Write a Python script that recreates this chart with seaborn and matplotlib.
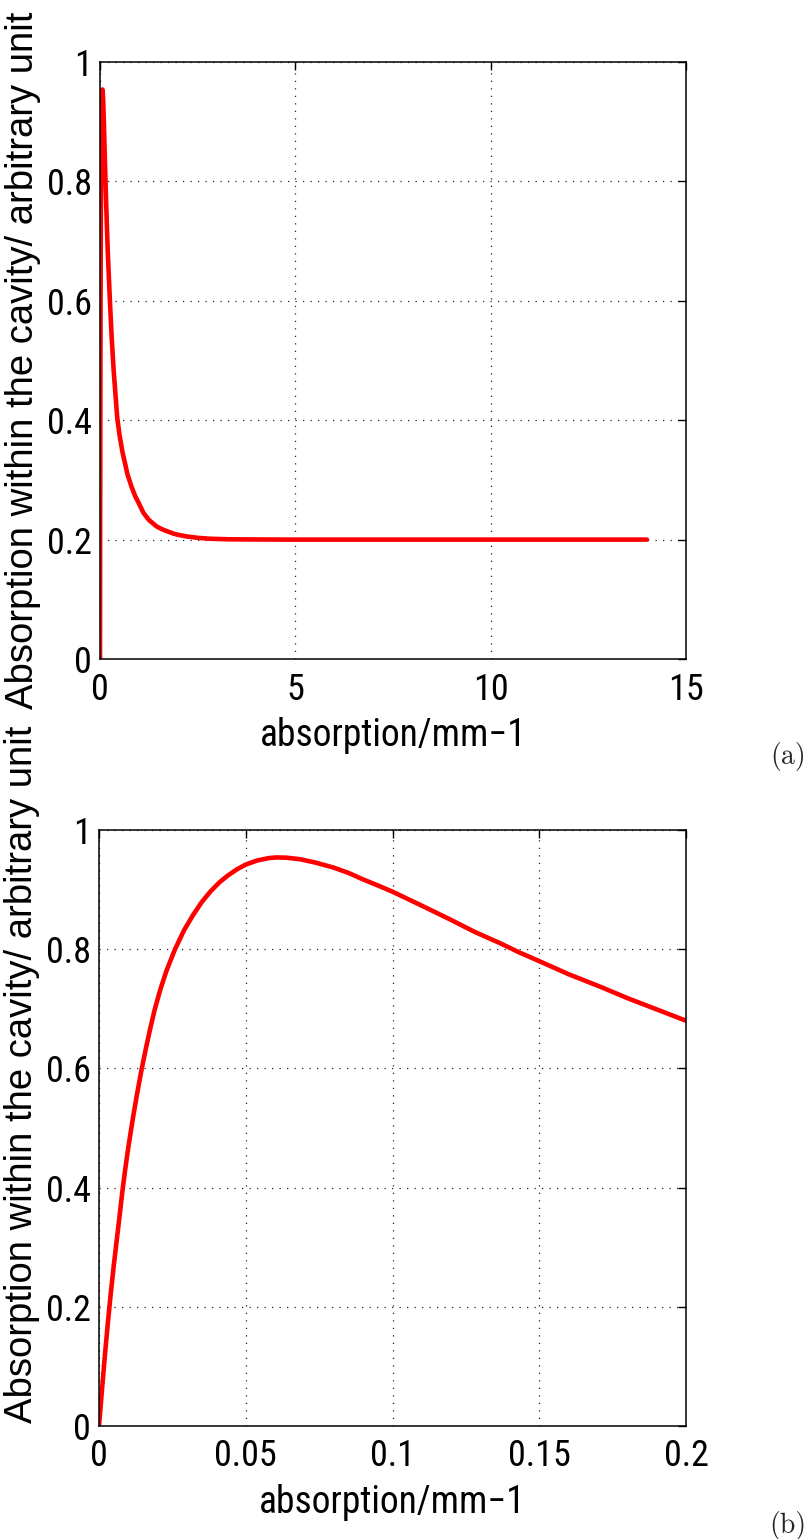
import numpy as np
import pandas as pd
import matplotlib
matplotlib.use("Agg")
import matplotlib.pyplot as plt
import seaborn as sns
from matplotlib import font_manager
from matplotlib.font_manager import FontProperties

# ---- data (absorption coefficient vs absorbed fraction) ----
alpha = [0.0, 0.001, 0.002, 0.003, 0.004, 0.005, 0.006, 0.007, 0.008, 0.009, 0.010,
         0.0115, 0.013, 0.0145, 0.016, 0.0175, 0.019, 0.021, 0.023, 0.0259, 0.029,
         0.032, 0.035, 0.038, 0.041, 0.044, 0.047, 0.050, 0.054, 0.058, 0.0606,
         0.064, 0.0685, 0.074, 0.0799, 0.085, 0.090, 0.095, 0.100, 0.110, 0.1196,
         0.128, 0.1367, 0.143, 0.150, 0.160, 0.1708, 0.180, 0.190, 0.200,
         0.25, 0.30, 0.35, 0.44, 0.50, 0.58, 0.65, 0.70, 0.81, 0.90, 1.00, 1.11,
         1.25, 1.45, 1.60, 1.88, 2.0, 2.2, 2.5, 2.8, 3.3, 4.0, 5.0, 8.0, 11.0, 14.0]
absorbed = [0.0, 0.060, 0.118, 0.172, 0.222, 0.268, 0.310, 0.352, 0.395, 0.433, 0.468,
            0.515, 0.558, 0.598, 0.634, 0.668, 0.699, 0.734, 0.764, 0.800, 0.832,
            0.857, 0.879, 0.897, 0.912, 0.924, 0.934, 0.942, 0.949, 0.953, 0.954,
            0.9535, 0.951, 0.945, 0.937, 0.928, 0.917, 0.907, 0.8965, 0.873, 0.850,
            0.829, 0.810, 0.795, 0.780, 0.758, 0.737, 0.718, 0.699, 0.680,
            0.605, 0.537, 0.483, 0.405, 0.375, 0.345, 0.325, 0.310, 0.288, 0.273,
            0.260, 0.245, 0.233, 0.222, 0.217, 0.210, 0.208, 0.2055, 0.203, 0.2015,
            0.2005, 0.2002, 0.200, 0.200, 0.200, 0.200]

yticks = [0, 0.2, 0.4, 0.6, 0.8, 1]
ytick_labels = ["0", "0.2", "0.4", "0.6", "0.8", "1"]
xticks_a = [0, 5, 10, 15]
xtick_labels_a = ["0", "5", "10", "15"]
xticks_b = [0, 0.05, 0.1, 0.15, 0.2]
xtick_labels_b = ["0", "0.05", "0.1", "0.15", "0.2"]

xlabel = "absorption/mm\u22121"
ylabel = "Absorption within the cavity/ arbitrary unit"
panel_tags = ["(a)", "(b)"]

df = pd.DataFrame({"alpha": alpha, "A": absorbed})
df_b = df[df["alpha"] <= 0.2]

sns.set_theme(style="white")
plt.rcParams["font.family"] = ["Liberation Sans", "DejaVu Sans"]
plt.rcParams["axes.unicode_minus"] = True

# look for a condensed sans face (narrow Helvetica-like look of the reference)
cond_file = None
prefs = ["Liberation Sans Narrow", "Roboto Condensed", "Open Sans Condensed",
         "Noto Sans Condensed", "DejaVu Sans Condensed", "Noto Sans", "Open Sans", "Roboto",
         "DejaVu Sans"]
entries = font_manager.fontManager.ttflist
for p in prefs:
    for f in entries:
        st = str(f.stretch).lower()
        is_cond = ("condensed" in st or "narrow" in f.name.lower() or "condensed" in f.name.lower()
                   or (isinstance(f.stretch, int) and f.stretch < 500))
        if f.name == p and is_cond and f.weight in (400, "normal", "regular") and f.style == "normal":
            cond_file = f.fname
            break
    if cond_file:
        break

if cond_file:
    tick_fp = FontProperties(fname=cond_file, size=26)
    xlab_fp = FontProperties(fname=cond_file, size=27)
else:
    tick_fp = FontProperties(family="Liberation Sans", size=22.5)
    xlab_fp = FontProperties(family="Liberation Sans", size=25)
ylab_fp = FontProperties(family="Liberation Sans", size=27.5)

fig = plt.figure(figsize=(8.11, 15.39), dpi=100)
ax_a = fig.add_axes([100 / 811, 1 - 659 / 1539, 586 / 811, 597 / 1539])
ax_b = fig.add_axes([99 / 811, 1 - 1426 / 1539, 587 / 811, 596 / 1539])

sns.lineplot(data=df, x="alpha", y="A", ax=ax_a, color="#ff0000", linewidth=3.3,
             estimator=None, sort=False)
sns.lineplot(data=df_b, x="alpha", y="A", ax=ax_b, color="#ff0000", linewidth=3.3,
             estimator=None, sort=False)

setups = [(ax_a, (0, 15), xticks_a, xtick_labels_a, 0.5),
          (ax_b, (0, 0.2), xticks_b, xtick_labels_b, 0.59)]
for ax, xl, xt, xtl, ylab_y in setups:
    ax.set_xlim(*xl)
    ax.set_ylim(0, 1)
    ax.set_xticks(xt)
    ax.set_xticklabels(xtl, fontproperties=tick_fp)
    ax.set_yticks(yticks)
    ax.set_yticklabels(ytick_labels, fontproperties=tick_fp)
    ax.tick_params(axis="both", direction="in", length=6, width=1, color="black",
                   top=True, right=True, labelcolor="black")
    ax.tick_params(axis="x", pad=9)
    ax.tick_params(axis="y", pad=6)
    ax.grid(True, color="#222222", linestyle=(0, (1, 5)), linewidth=0.9)
    for s in ax.spines.values():
        s.set_visible(True)
        s.set_color("black")
        s.set_linewidth(1.1)
    ax.set_xlabel(xlabel, fontproperties=xlab_fp, color="black")
    ax.xaxis.set_label_coords(0.5, -0.097)
    ax.set_ylabel(ylabel, fontproperties=ylab_fp, color="black")
    ax.yaxis.set_label_coords(-0.10, ylab_y)

fig.text(788 / 811, 1 - 757 / 1539, panel_tags[0], fontsize=20, family="cmr10",
         ha="center", va="center")
fig.text(788 / 811, 1 - 1525 / 1539, panel_tags[1], fontsize=20, family="cmr10",
         ha="center", va="center")

fig.savefig("out.png", dpi=100, facecolor="white")
